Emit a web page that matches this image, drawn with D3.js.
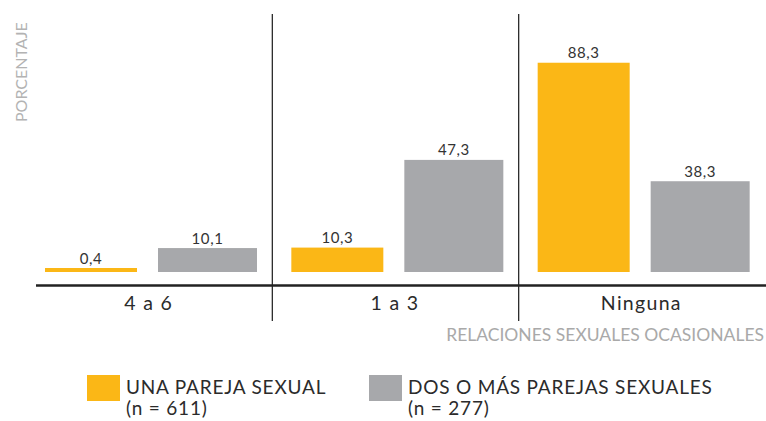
<!DOCTYPE html>
<html>
<head>
<meta charset="utf-8">
<script src="https://cdn.jsdelivr.net/npm/d3@7"></script>
<style>
  html, body { margin: 0; padding: 0; background: #fff; }
  svg { display: block; }
  text { font-family: "Lato", "DejaVu Sans", sans-serif; }
</style>
</head>
<body>
<svg id="chart" width="766" height="421"></svg>
<script>
// Relaciones sexuales ocasionales por número de parejas sexuales (%)
const categories = ["4 a 6", "1 a 3", "Ninguna"];
const seriesKeys = ["una", "dos"];
const seriesNames = ["UNA PAREJA SEXUAL", "DOS O MÁS PAREJAS SEXUALES"];
const seriesCounts = ["(n = 611)", "(n = 277)"];
const unaValues = [0.4, 10.3, 88.3];
const dosValues = [10.1, 47.3, 38.3];
const valueLabels = { una: ["0,4", "10,3", "88,3"], dos: ["10,1", "47,3", "38,3"] };

const colors = { una: "#FBB716", dos: "#A7A8AB" };
const barWidths = { una: 92, dos: 99 };

const svg = d3.select("#chart");

const x0 = d3.scaleBand().domain(categories).range([25.5, 764.5]).paddingInner(0).paddingOuter(0);
const x1 = d3.scaleOrdinal().domain(seriesKeys).range([19.5, 132.5]);
const y = d3.scaleLinear().domain([0, 100]).range([272, 35]);

const rows = categories.map((c, i) => ({
  cat: c,
  vals: [
    { key: "una", v: unaValues[i], label: valueLabels.una[i] },
    { key: "dos", v: dosValues[i], label: valueLabels.dos[i] }
  ]
}));

// Group separators
svg.selectAll("line.sep")
  .data(categories.slice(1))
  .join("line")
  .attr("class", "sep")
  .attr("x1", d => x0(d) + 0.5).attr("x2", d => x0(d) + 0.5)
  .attr("y1", 14).attr("y2", 321)
  .attr("stroke", "#2b2b2b").attr("stroke-width", 1.3);

const g = svg.selectAll("g.grp").data(rows).join("g")
  .attr("class", "grp")
  .attr("transform", d => `translate(${x0(d.cat)},0)`);

// Very small values keep a thin visible bar
const minH = 4;
g.selectAll("rect").data(d => d.vals).join("rect")
  .attr("x", d => x1(d.key))
  .attr("width", d => barWidths[d.key])
  .attr("y", d => Math.min(y(d.v), y(0) - minH))
  .attr("height", d => Math.max(y(0) - y(d.v), minH))
  .attr("fill", d => colors[d.key]);

g.selectAll("text.val").data(d => d.vals).join("text")
  .attr("class", "val")
  .attr("x", d => x1(d.key) + barWidths[d.key] / 2)
  .attr("y", d => Math.min(y(d.v), y(0) - minH) - 4.5)
  .attr("text-anchor", "middle")
  .attr("font-size", 15)
  .attr("letter-spacing", 0.6)
  .attr("fill", "#333")
  .text(d => d.label);

// Baseline axis
const xAxis = d3.axisBottom(x0).tickSize(0).tickPadding(11);
const ax = svg.append("g").attr("transform", "translate(0,285)").call(xAxis);
ax.select(".domain").remove();
ax.selectAll("text")
  .attr("font-size", 19.5).attr("fill", "#2b2b2b")
  .attr("letter-spacing", 1.3)
  .attr("font-family", "Lato, 'DejaVu Sans', sans-serif");
svg.append("line")
  .attr("x1", 36).attr("x2", 766).attr("y1", 285.5).attr("y2", 285.5)
  .attr("stroke", "#222").attr("stroke-width", 2.5);

// Axis titles
svg.append("text")
  .attr("transform", "translate(27,122) rotate(-90)")
  .attr("font-size", 16).attr("fill", "#b3b3b3")
  .text("PORCENTAJE");

svg.append("text")
  .attr("x", 764).attr("y", 341)
  .attr("text-anchor", "end")
  .attr("font-size", 17.5).attr("fill", "#a9a9a9")
  .text("RELACIONES SEXUALES OCASIONALES");

// Legend
const legendX = [87, 369];
const lg = svg.selectAll("g.leg").data(seriesKeys).join("g")
  .attr("class", "leg")
  .attr("transform", (d, i) => `translate(${legendX[i]},375)`);
lg.append("rect").attr("width", 33).attr("height", 26).attr("fill", d => colors[d]);
lg.append("text").attr("x", 39).attr("y", 18.5)
  .attr("font-size", 19).attr("letter-spacing", 0.8).attr("fill", "#2b2b2b")
  .text((d, i) => seriesNames[i]);
lg.append("text").attr("x", 39).attr("y", 40)
  .attr("font-size", 19).attr("letter-spacing", 0.8).attr("fill", "#2b2b2b")
  .text((d, i) => seriesCounts[i]);
</script>
</body>
</html>
